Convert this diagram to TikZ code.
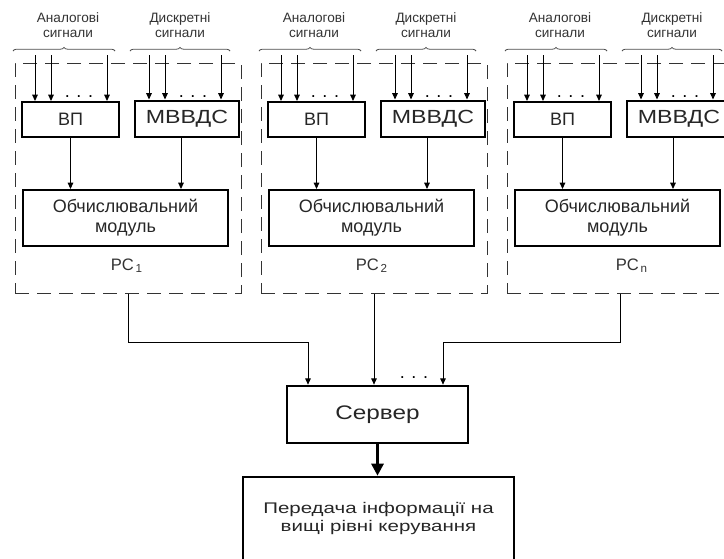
\documentclass[tikz,border=0pt]{standalone}
\usepackage{fontspec}
\setmainfont{Liberation Sans}
\usepackage{graphicx}
\usetikzlibrary{arrows.meta, decorations.pathreplacing}

\newcommand{\wider}[2]{\scalebox{#1}[1]{#2}}

\begin{document}
\begin{tikzpicture}[
  x=0.5pt, y=-0.5pt,
  blk/.style={draw, line width=1pt, inner sep=0pt, align=center, text=black!85, font=\fontsize{9}{10}\selectfont},
  rcbox/.style={draw=black!80, line width=0.5pt, dash pattern=on 7pt off 4pt, minimum width=113pt, minimum height=115pt},
  sig/.style={align=center, text=black!80, font=\fontsize{6.8}{7.6}\selectfont},
  arr/.style={line width=0.5pt, -{Triangle[length=3.2pt, width=2.8pt]}},
  brc/.style={decorate, decoration={brace, amplitude=1.8pt}, line width=0.4pt, black!70},
  dots/.style={anchor=base, font=\fontsize{9}{10}\selectfont},
]
  \clip (0,0) rectangle (724,558);

  % ── Workstations ──
  \foreach \g/\dx/\n/\px in {1/0/1/127, 2/246/2/372, 3/492/n/632} {
    \node[rcbox] (rc\g) at (128+\dx,178) {};
    \node[sig] (an\g) at (68+\dx,25) {Аналогові\\сигнали};
    \node[sig] (ds\g) at (180+\dx,25) {Дискретні\\сигнали};
    \draw[brc] (13+\dx,51) -- (115+\dx,51);
    \draw[brc] (130+\dx,51) -- (230+\dx,51);

    \node[blk, minimum width=48.5pt, minimum height=17.5pt] (vp\g) at (70.5+\dx,119.5) {ВП};
    \node[blk, minimum width=52pt, minimum height=18pt, font=\fontsize{9.5}{11}\selectfont] (mv\g) at (187+\dx,118.5) {\wider{1.22}{МВВДС}};
    \node[blk, minimum width=102.5pt, minimum height=28pt] (ob\g) at (125.5+\dx,218) {Обчислювальний\\модуль};
    \node[anchor=base, text=black!80, font=\fontsize{8.3}{9}\selectfont] (pc\g) at (\px,270) {РС\textsubscript{\,\n}};

    % inputs
    \foreach \ax in {35,51,107} {
      \coordinate (a) at (\ax+\dx,55);
      \draw[arr] (a) -- (a |- vp\g.north);
    }
    \foreach \ax in {149,165,221} {
      \coordinate (d) at (\ax+\dx,55);
      \draw[arr] (d) -- (d |- mv\g.north);
    }
    \node[dots] (da\g) at (79+\dx,97) {. . .};
    \node[dots] (dd\g) at (193+\dx,97) {. . .};

    % to computing module
    \draw[arr] (vp\g.south) -- (vp\g.south |- ob\g.north);
    \coordinate (m\g) at ([xshift=-3pt]mv\g.south);
    \draw[arr] (m\g) -- (m\g |- ob\g.north);
  }

  % ── Server ──
  \node[blk, line width=1.3pt, minimum width=90.5pt, minimum height=28.5pt, font=\fontsize{9.8}{11}\selectfont] (sv) at (377.5,414.5) {\wider{1.24}{Сервер}};
  \node[blk, line width=1.3pt, minimum width=135.5pt, minimum height=42pt, font=\fontsize{7.7}{9}\selectfont] (tr) at (378.5,519)
    {\wider{1.33}{\begin{tabular}{@{}c@{}}Передача інформації на\\вищі рівні керування\end{tabular}}};

  \draw[arr] (rc1.south) -- ++(0,49) -| ([xshift=-34.75pt]sv.north);
  \draw[arr] (rc2.south) -- (rc2.south |- sv.north);
  \draw[arr] (rc3.south) -- ++(0,49) -| ([xshift=32.75pt]sv.north);
  \node[dots] (dsv) at (414,378) {. . .};

  \draw[line width=1.4pt, -{Triangle[length=6pt, width=6pt]}] (sv.south) -- (sv.south |- tr.north);
\end{tikzpicture}
\end{document}
